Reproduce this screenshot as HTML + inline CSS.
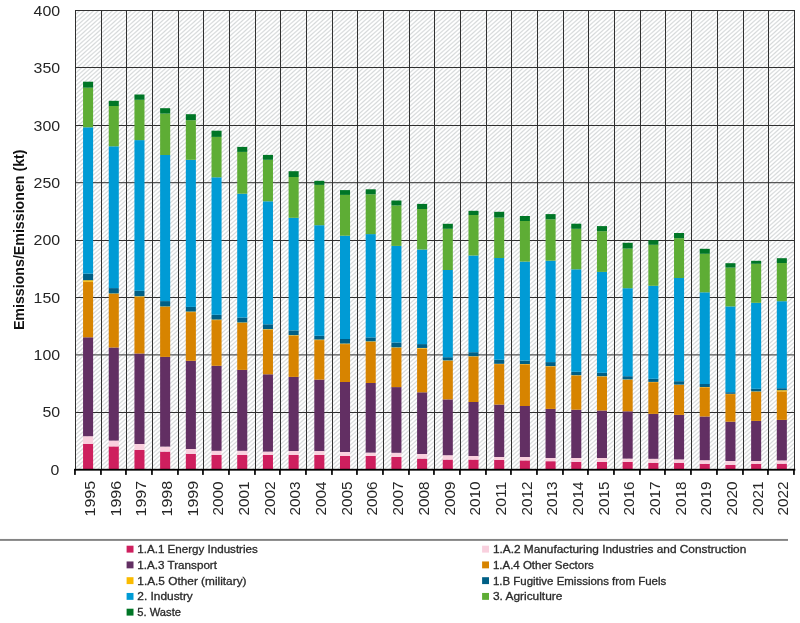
<!DOCTYPE html>
<html lang="en"><head><meta charset="utf-8"><title>Emissions/Emissionen (kt)</title>
<style>html,body{margin:0;padding:0;background:#fff}body{width:800px;height:623px;overflow:hidden}svg{display:block}text{font-family:"Liberation Sans","DejaVu Sans",sans-serif}</style>
</head><body>
<svg width="800" height="623" viewBox="0 0 800 623">
<rect x="0" y="0" width="800" height="623" fill="#fff"/>
<defs><linearGradient id="hg" gradientUnits="userSpaceOnUse" x1="0" y1="0" x2="2.0868" y2="2.3352" spreadMethod="repeat"><stop offset="0" stop-color="#fff"/><stop offset="0.13" stop-color="#fff"/><stop offset="0.5" stop-color="#d5d8d9"/><stop offset="0.87" stop-color="#fff"/><stop offset="1" stop-color="#fff"/></linearGradient></defs>
<rect x="75" y="10" width="720" height="459" fill="url(#hg)"/>
<g fill="#303030">
<rect x="75" y="10" width="720" height="1"/>
<rect x="75" y="67" width="720" height="1"/>
<rect x="75" y="125" width="720" height="1"/>
<rect x="75" y="182.2" width="720" height="1"/>
<rect x="75" y="240" width="720" height="1"/>
<rect x="75" y="297" width="720" height="1"/>
<rect x="75" y="354.4" width="720" height="1"/>
<rect x="75" y="412" width="720" height="1"/>
<rect x="75" y="10" width="1" height="459"/>
<rect x="101" y="10" width="1" height="459"/>
<rect x="126" y="10" width="1" height="459"/>
<rect x="152" y="10" width="1" height="459"/>
<rect x="178" y="10" width="1" height="459"/>
<rect x="203" y="10" width="1" height="459"/>
<rect x="229" y="10" width="1" height="459"/>
<rect x="255" y="10" width="1" height="459"/>
<rect x="280" y="10" width="1" height="459"/>
<rect x="306" y="10" width="1" height="459"/>
<rect x="332" y="10" width="1" height="459"/>
<rect x="357" y="10" width="1" height="459"/>
<rect x="383" y="10" width="1" height="459"/>
<rect x="409" y="10" width="1" height="459"/>
<rect x="434" y="10" width="1" height="459"/>
<rect x="460" y="10" width="1" height="459"/>
<rect x="486" y="10" width="1" height="459"/>
<rect x="511" y="10" width="1" height="459"/>
<rect x="537" y="10" width="1" height="459"/>
<rect x="563" y="10" width="1" height="459"/>
<rect x="588" y="10" width="1" height="459"/>
<rect x="614" y="10" width="1" height="459"/>
<rect x="640" y="10" width="1" height="459"/>
<rect x="665" y="10" width="1" height="459"/>
<rect x="691" y="10" width="1" height="459"/>
<rect x="717" y="10" width="1" height="459"/>
<rect x="743" y="10" width="1" height="459"/>
<rect x="768" y="10" width="1" height="459"/>
<rect x="794" y="10" width="1" height="459"/>
</g>
<g>
<rect x="83.05" y="444.00" width="10.05" height="25.00" fill="#CE1F5E"/>
<rect x="83.05" y="436.20" width="10.05" height="7.80" fill="#F9D0DE"/>
<rect x="83.05" y="337.30" width="10.05" height="98.90" fill="#622F63"/>
<rect x="83.05" y="281.80" width="10.05" height="55.50" fill="#D78400"/>
<rect x="83.05" y="280.20" width="10.05" height="1.60" fill="#FABB00"/>
<rect x="83.05" y="273.70" width="10.05" height="6.50" fill="#005F85"/>
<rect x="83.05" y="127.30" width="10.05" height="146.40" fill="#009BD5"/>
<rect x="83.05" y="87.70" width="10.05" height="39.60" fill="#5EAD35"/>
<rect x="83.05" y="81.70" width="10.05" height="6.00" fill="#007626"/>
</g>
<g>
<rect x="108.75" y="446.40" width="10.05" height="22.60" fill="#CE1F5E"/>
<rect x="108.75" y="440.60" width="10.05" height="5.80" fill="#F9D0DE"/>
<rect x="108.75" y="347.50" width="10.05" height="93.10" fill="#622F63"/>
<rect x="108.75" y="294.00" width="10.05" height="53.50" fill="#D78400"/>
<rect x="108.75" y="293.45" width="10.05" height="0.55" fill="#FABB00"/>
<rect x="108.75" y="288.10" width="10.05" height="5.35" fill="#005F85"/>
<rect x="108.75" y="146.30" width="10.05" height="141.80" fill="#009BD5"/>
<rect x="108.75" y="106.00" width="10.05" height="40.30" fill="#5EAD35"/>
<rect x="108.75" y="100.80" width="10.05" height="5.20" fill="#007626"/>
</g>
<g>
<rect x="134.44" y="450.00" width="10.05" height="19.00" fill="#CE1F5E"/>
<rect x="134.44" y="444.00" width="10.05" height="6.00" fill="#F9D0DE"/>
<rect x="134.44" y="353.50" width="10.05" height="90.50" fill="#622F63"/>
<rect x="134.44" y="296.80" width="10.05" height="56.70" fill="#D78400"/>
<rect x="134.44" y="296.25" width="10.05" height="0.55" fill="#FABB00"/>
<rect x="134.44" y="290.80" width="10.05" height="5.45" fill="#005F85"/>
<rect x="134.44" y="140.10" width="10.05" height="150.70" fill="#009BD5"/>
<rect x="134.44" y="99.80" width="10.05" height="40.30" fill="#5EAD35"/>
<rect x="134.44" y="94.50" width="10.05" height="5.30" fill="#007626"/>
</g>
<g>
<rect x="160.13" y="451.60" width="10.05" height="17.40" fill="#CE1F5E"/>
<rect x="160.13" y="446.60" width="10.05" height="5.00" fill="#F9D0DE"/>
<rect x="160.13" y="356.90" width="10.05" height="89.70" fill="#622F63"/>
<rect x="160.13" y="307.00" width="10.05" height="49.90" fill="#D78400"/>
<rect x="160.13" y="306.45" width="10.05" height="0.55" fill="#FABB00"/>
<rect x="160.13" y="301.10" width="10.05" height="5.35" fill="#005F85"/>
<rect x="160.13" y="155.00" width="10.05" height="146.10" fill="#009BD5"/>
<rect x="160.13" y="113.60" width="10.05" height="41.40" fill="#5EAD35"/>
<rect x="160.13" y="108.20" width="10.05" height="5.40" fill="#007626"/>
</g>
<g>
<rect x="185.83" y="454.00" width="10.05" height="15.00" fill="#CE1F5E"/>
<rect x="185.83" y="449.00" width="10.05" height="5.00" fill="#F9D0DE"/>
<rect x="185.83" y="360.80" width="10.05" height="88.20" fill="#622F63"/>
<rect x="185.83" y="312.10" width="10.05" height="48.70" fill="#D78400"/>
<rect x="185.83" y="311.55" width="10.05" height="0.55" fill="#FABB00"/>
<rect x="185.83" y="306.90" width="10.05" height="4.65" fill="#005F85"/>
<rect x="185.83" y="159.80" width="10.05" height="147.10" fill="#009BD5"/>
<rect x="185.83" y="120.20" width="10.05" height="39.60" fill="#5EAD35"/>
<rect x="185.83" y="114.20" width="10.05" height="6.00" fill="#007626"/>
</g>
<g>
<rect x="211.52" y="455.00" width="10.05" height="14.00" fill="#CE1F5E"/>
<rect x="211.52" y="450.80" width="10.05" height="4.20" fill="#F9D0DE"/>
<rect x="211.52" y="365.80" width="10.05" height="85.00" fill="#622F63"/>
<rect x="211.52" y="320.10" width="10.05" height="45.70" fill="#D78400"/>
<rect x="211.52" y="319.55" width="10.05" height="0.55" fill="#FABB00"/>
<rect x="211.52" y="314.80" width="10.05" height="4.75" fill="#005F85"/>
<rect x="211.52" y="177.30" width="10.05" height="137.50" fill="#009BD5"/>
<rect x="211.52" y="136.90" width="10.05" height="40.40" fill="#5EAD35"/>
<rect x="211.52" y="130.70" width="10.05" height="6.20" fill="#007626"/>
</g>
<g>
<rect x="237.22" y="455.00" width="10.05" height="14.00" fill="#CE1F5E"/>
<rect x="237.22" y="450.80" width="10.05" height="4.20" fill="#F9D0DE"/>
<rect x="237.22" y="369.90" width="10.05" height="80.90" fill="#622F63"/>
<rect x="237.22" y="323.00" width="10.05" height="46.90" fill="#D78400"/>
<rect x="237.22" y="322.45" width="10.05" height="0.55" fill="#FABB00"/>
<rect x="237.22" y="317.50" width="10.05" height="4.95" fill="#005F85"/>
<rect x="237.22" y="193.70" width="10.05" height="123.80" fill="#009BD5"/>
<rect x="237.22" y="151.90" width="10.05" height="41.80" fill="#5EAD35"/>
<rect x="237.22" y="146.90" width="10.05" height="5.00" fill="#007626"/>
</g>
<g>
<rect x="262.92" y="455.00" width="10.05" height="14.00" fill="#CE1F5E"/>
<rect x="262.92" y="451.60" width="10.05" height="3.40" fill="#F9D0DE"/>
<rect x="262.92" y="374.30" width="10.05" height="77.30" fill="#622F63"/>
<rect x="262.92" y="329.70" width="10.05" height="44.60" fill="#D78400"/>
<rect x="262.92" y="329.15" width="10.05" height="0.55" fill="#FABB00"/>
<rect x="262.92" y="324.30" width="10.05" height="4.85" fill="#005F85"/>
<rect x="262.92" y="201.30" width="10.05" height="123.00" fill="#009BD5"/>
<rect x="262.92" y="159.80" width="10.05" height="41.50" fill="#5EAD35"/>
<rect x="262.92" y="154.90" width="10.05" height="4.90" fill="#007626"/>
</g>
<g>
<rect x="288.61" y="455.00" width="10.05" height="14.00" fill="#CE1F5E"/>
<rect x="288.61" y="451.00" width="10.05" height="4.00" fill="#F9D0DE"/>
<rect x="288.61" y="376.90" width="10.05" height="74.10" fill="#622F63"/>
<rect x="288.61" y="335.70" width="10.05" height="41.20" fill="#D78400"/>
<rect x="288.61" y="335.15" width="10.05" height="0.55" fill="#FABB00"/>
<rect x="288.61" y="330.40" width="10.05" height="4.75" fill="#005F85"/>
<rect x="288.61" y="217.80" width="10.05" height="112.60" fill="#009BD5"/>
<rect x="288.61" y="177.00" width="10.05" height="40.80" fill="#5EAD35"/>
<rect x="288.61" y="171.20" width="10.05" height="5.80" fill="#007626"/>
</g>
<g>
<rect x="314.31" y="455.00" width="10.05" height="14.00" fill="#CE1F5E"/>
<rect x="314.31" y="451.00" width="10.05" height="4.00" fill="#F9D0DE"/>
<rect x="314.31" y="379.60" width="10.05" height="71.40" fill="#622F63"/>
<rect x="314.31" y="340.10" width="10.05" height="39.50" fill="#D78400"/>
<rect x="314.31" y="339.55" width="10.05" height="0.55" fill="#FABB00"/>
<rect x="314.31" y="335.80" width="10.05" height="3.75" fill="#005F85"/>
<rect x="314.31" y="225.20" width="10.05" height="110.60" fill="#009BD5"/>
<rect x="314.31" y="184.90" width="10.05" height="40.30" fill="#5EAD35"/>
<rect x="314.31" y="180.80" width="10.05" height="4.10" fill="#007626"/>
</g>
<g>
<rect x="340.00" y="456.00" width="10.05" height="13.00" fill="#CE1F5E"/>
<rect x="340.00" y="452.00" width="10.05" height="4.00" fill="#F9D0DE"/>
<rect x="340.00" y="382.00" width="10.05" height="70.00" fill="#622F63"/>
<rect x="340.00" y="344.10" width="10.05" height="37.90" fill="#D78400"/>
<rect x="340.00" y="343.55" width="10.05" height="0.55" fill="#FABB00"/>
<rect x="340.00" y="339.00" width="10.05" height="4.55" fill="#005F85"/>
<rect x="340.00" y="235.70" width="10.05" height="103.30" fill="#009BD5"/>
<rect x="340.00" y="194.90" width="10.05" height="40.80" fill="#5EAD35"/>
<rect x="340.00" y="190.10" width="10.05" height="4.80" fill="#007626"/>
</g>
<g>
<rect x="365.69" y="456.00" width="10.05" height="13.00" fill="#CE1F5E"/>
<rect x="365.69" y="452.60" width="10.05" height="3.40" fill="#F9D0DE"/>
<rect x="365.69" y="383.00" width="10.05" height="69.60" fill="#622F63"/>
<rect x="365.69" y="341.90" width="10.05" height="41.10" fill="#D78400"/>
<rect x="365.69" y="341.35" width="10.05" height="0.55" fill="#FABB00"/>
<rect x="365.69" y="337.40" width="10.05" height="3.95" fill="#005F85"/>
<rect x="365.69" y="234.10" width="10.05" height="103.30" fill="#009BD5"/>
<rect x="365.69" y="194.30" width="10.05" height="39.80" fill="#5EAD35"/>
<rect x="365.69" y="189.30" width="10.05" height="5.00" fill="#007626"/>
</g>
<g>
<rect x="391.39" y="457.00" width="10.05" height="12.00" fill="#CE1F5E"/>
<rect x="391.39" y="452.80" width="10.05" height="4.20" fill="#F9D0DE"/>
<rect x="391.39" y="387.10" width="10.05" height="65.70" fill="#622F63"/>
<rect x="391.39" y="347.90" width="10.05" height="39.20" fill="#D78400"/>
<rect x="391.39" y="347.35" width="10.05" height="0.55" fill="#FABB00"/>
<rect x="391.39" y="342.50" width="10.05" height="4.85" fill="#005F85"/>
<rect x="391.39" y="245.90" width="10.05" height="96.60" fill="#009BD5"/>
<rect x="391.39" y="205.50" width="10.05" height="40.40" fill="#5EAD35"/>
<rect x="391.39" y="200.50" width="10.05" height="5.00" fill="#007626"/>
</g>
<g>
<rect x="417.09" y="458.60" width="10.05" height="10.40" fill="#CE1F5E"/>
<rect x="417.09" y="454.00" width="10.05" height="4.60" fill="#F9D0DE"/>
<rect x="417.09" y="392.30" width="10.05" height="61.70" fill="#622F63"/>
<rect x="417.09" y="348.50" width="10.05" height="43.80" fill="#D78400"/>
<rect x="417.09" y="347.95" width="10.05" height="0.55" fill="#FABB00"/>
<rect x="417.09" y="344.10" width="10.05" height="3.85" fill="#005F85"/>
<rect x="417.09" y="249.50" width="10.05" height="94.60" fill="#009BD5"/>
<rect x="417.09" y="209.00" width="10.05" height="40.50" fill="#5EAD35"/>
<rect x="417.09" y="203.90" width="10.05" height="5.10" fill="#007626"/>
</g>
<g>
<rect x="442.78" y="459.60" width="10.05" height="9.40" fill="#CE1F5E"/>
<rect x="442.78" y="455.20" width="10.05" height="4.40" fill="#F9D0DE"/>
<rect x="442.78" y="399.40" width="10.05" height="55.80" fill="#622F63"/>
<rect x="442.78" y="360.70" width="10.05" height="38.70" fill="#D78400"/>
<rect x="442.78" y="360.40" width="10.05" height="0.30" fill="#FABB00"/>
<rect x="442.78" y="357.20" width="10.05" height="3.20" fill="#005F85"/>
<rect x="442.78" y="270.00" width="10.05" height="87.20" fill="#009BD5"/>
<rect x="442.78" y="228.80" width="10.05" height="41.20" fill="#5EAD35"/>
<rect x="442.78" y="223.80" width="10.05" height="5.00" fill="#007626"/>
</g>
<g>
<rect x="468.48" y="459.60" width="10.05" height="9.40" fill="#CE1F5E"/>
<rect x="468.48" y="456.00" width="10.05" height="3.60" fill="#F9D0DE"/>
<rect x="468.48" y="402.00" width="10.05" height="54.00" fill="#622F63"/>
<rect x="468.48" y="356.50" width="10.05" height="45.50" fill="#D78400"/>
<rect x="468.48" y="356.20" width="10.05" height="0.30" fill="#FABB00"/>
<rect x="468.48" y="352.20" width="10.05" height="4.00" fill="#005F85"/>
<rect x="468.48" y="255.50" width="10.05" height="96.70" fill="#009BD5"/>
<rect x="468.48" y="215.00" width="10.05" height="40.50" fill="#5EAD35"/>
<rect x="468.48" y="210.80" width="10.05" height="4.20" fill="#007626"/>
</g>
<g>
<rect x="494.17" y="460.00" width="10.05" height="9.00" fill="#CE1F5E"/>
<rect x="494.17" y="457.00" width="10.05" height="3.00" fill="#F9D0DE"/>
<rect x="494.17" y="404.60" width="10.05" height="52.40" fill="#622F63"/>
<rect x="494.17" y="364.10" width="10.05" height="40.50" fill="#D78400"/>
<rect x="494.17" y="363.80" width="10.05" height="0.30" fill="#FABB00"/>
<rect x="494.17" y="359.80" width="10.05" height="4.00" fill="#005F85"/>
<rect x="494.17" y="258.00" width="10.05" height="101.80" fill="#009BD5"/>
<rect x="494.17" y="217.60" width="10.05" height="40.40" fill="#5EAD35"/>
<rect x="494.17" y="211.80" width="10.05" height="5.80" fill="#007626"/>
</g>
<g>
<rect x="519.87" y="460.40" width="10.05" height="8.60" fill="#CE1F5E"/>
<rect x="519.87" y="457.00" width="10.05" height="3.40" fill="#F9D0DE"/>
<rect x="519.87" y="406.00" width="10.05" height="51.00" fill="#622F63"/>
<rect x="519.87" y="364.30" width="10.05" height="41.70" fill="#D78400"/>
<rect x="519.87" y="364.00" width="10.05" height="0.30" fill="#FABB00"/>
<rect x="519.87" y="360.60" width="10.05" height="3.40" fill="#005F85"/>
<rect x="519.87" y="261.60" width="10.05" height="99.00" fill="#009BD5"/>
<rect x="519.87" y="221.00" width="10.05" height="40.60" fill="#5EAD35"/>
<rect x="519.87" y="216.00" width="10.05" height="5.00" fill="#007626"/>
</g>
<g>
<rect x="545.56" y="461.20" width="10.05" height="7.80" fill="#CE1F5E"/>
<rect x="545.56" y="458.00" width="10.05" height="3.20" fill="#F9D0DE"/>
<rect x="545.56" y="408.90" width="10.05" height="49.10" fill="#622F63"/>
<rect x="545.56" y="366.40" width="10.05" height="42.50" fill="#D78400"/>
<rect x="545.56" y="366.10" width="10.05" height="0.30" fill="#FABB00"/>
<rect x="545.56" y="362.10" width="10.05" height="4.00" fill="#005F85"/>
<rect x="545.56" y="260.70" width="10.05" height="101.40" fill="#009BD5"/>
<rect x="545.56" y="219.30" width="10.05" height="41.40" fill="#5EAD35"/>
<rect x="545.56" y="214.10" width="10.05" height="5.20" fill="#007626"/>
</g>
<g>
<rect x="571.25" y="462.00" width="10.05" height="7.00" fill="#CE1F5E"/>
<rect x="571.25" y="458.00" width="10.05" height="4.00" fill="#F9D0DE"/>
<rect x="571.25" y="409.70" width="10.05" height="48.30" fill="#622F63"/>
<rect x="571.25" y="375.50" width="10.05" height="34.20" fill="#D78400"/>
<rect x="571.25" y="375.20" width="10.05" height="0.30" fill="#FABB00"/>
<rect x="571.25" y="371.80" width="10.05" height="3.40" fill="#005F85"/>
<rect x="571.25" y="269.30" width="10.05" height="102.50" fill="#009BD5"/>
<rect x="571.25" y="228.80" width="10.05" height="40.50" fill="#5EAD35"/>
<rect x="571.25" y="223.70" width="10.05" height="5.10" fill="#007626"/>
</g>
<g>
<rect x="596.95" y="462.00" width="10.05" height="7.00" fill="#CE1F5E"/>
<rect x="596.95" y="458.00" width="10.05" height="4.00" fill="#F9D0DE"/>
<rect x="596.95" y="410.50" width="10.05" height="47.50" fill="#622F63"/>
<rect x="596.95" y="376.50" width="10.05" height="34.00" fill="#D78400"/>
<rect x="596.95" y="376.20" width="10.05" height="0.30" fill="#FABB00"/>
<rect x="596.95" y="372.80" width="10.05" height="3.40" fill="#005F85"/>
<rect x="596.95" y="271.90" width="10.05" height="100.90" fill="#009BD5"/>
<rect x="596.95" y="231.20" width="10.05" height="40.70" fill="#5EAD35"/>
<rect x="596.95" y="226.10" width="10.05" height="5.10" fill="#007626"/>
</g>
<g>
<rect x="622.64" y="462.00" width="10.05" height="7.00" fill="#CE1F5E"/>
<rect x="622.64" y="458.60" width="10.05" height="3.40" fill="#F9D0DE"/>
<rect x="622.64" y="411.30" width="10.05" height="47.30" fill="#622F63"/>
<rect x="622.64" y="379.70" width="10.05" height="31.60" fill="#D78400"/>
<rect x="622.64" y="379.40" width="10.05" height="0.30" fill="#FABB00"/>
<rect x="622.64" y="376.20" width="10.05" height="3.20" fill="#005F85"/>
<rect x="622.64" y="288.20" width="10.05" height="88.00" fill="#009BD5"/>
<rect x="622.64" y="248.60" width="10.05" height="39.60" fill="#5EAD35"/>
<rect x="622.64" y="242.80" width="10.05" height="5.80" fill="#007626"/>
</g>
<g>
<rect x="648.34" y="462.80" width="10.05" height="6.20" fill="#CE1F5E"/>
<rect x="648.34" y="458.80" width="10.05" height="4.00" fill="#F9D0DE"/>
<rect x="648.34" y="413.90" width="10.05" height="44.90" fill="#622F63"/>
<rect x="648.34" y="382.20" width="10.05" height="31.70" fill="#D78400"/>
<rect x="648.34" y="381.90" width="10.05" height="0.30" fill="#FABB00"/>
<rect x="648.34" y="378.80" width="10.05" height="3.10" fill="#005F85"/>
<rect x="648.34" y="285.80" width="10.05" height="93.00" fill="#009BD5"/>
<rect x="648.34" y="244.80" width="10.05" height="41.00" fill="#5EAD35"/>
<rect x="648.34" y="240.20" width="10.05" height="4.60" fill="#007626"/>
</g>
<g>
<rect x="674.03" y="462.80" width="10.05" height="6.20" fill="#CE1F5E"/>
<rect x="674.03" y="459.40" width="10.05" height="3.40" fill="#F9D0DE"/>
<rect x="674.03" y="414.90" width="10.05" height="44.50" fill="#622F63"/>
<rect x="674.03" y="384.90" width="10.05" height="30.00" fill="#D78400"/>
<rect x="674.03" y="384.60" width="10.05" height="0.30" fill="#FABB00"/>
<rect x="674.03" y="381.20" width="10.05" height="3.40" fill="#005F85"/>
<rect x="674.03" y="278.00" width="10.05" height="103.20" fill="#009BD5"/>
<rect x="674.03" y="238.20" width="10.05" height="39.80" fill="#5EAD35"/>
<rect x="674.03" y="233.00" width="10.05" height="5.20" fill="#007626"/>
</g>
<g>
<rect x="699.73" y="463.80" width="10.05" height="5.20" fill="#CE1F5E"/>
<rect x="699.73" y="460.20" width="10.05" height="3.60" fill="#F9D0DE"/>
<rect x="699.73" y="416.50" width="10.05" height="43.70" fill="#622F63"/>
<rect x="699.73" y="387.30" width="10.05" height="29.20" fill="#D78400"/>
<rect x="699.73" y="387.00" width="10.05" height="0.30" fill="#FABB00"/>
<rect x="699.73" y="384.00" width="10.05" height="3.00" fill="#005F85"/>
<rect x="699.73" y="292.30" width="10.05" height="91.70" fill="#009BD5"/>
<rect x="699.73" y="253.80" width="10.05" height="38.50" fill="#5EAD35"/>
<rect x="699.73" y="248.80" width="10.05" height="5.00" fill="#007626"/>
</g>
<g>
<rect x="725.42" y="464.80" width="10.05" height="4.20" fill="#CE1F5E"/>
<rect x="725.42" y="461.00" width="10.05" height="3.80" fill="#F9D0DE"/>
<rect x="725.42" y="421.70" width="10.05" height="39.30" fill="#622F63"/>
<rect x="725.42" y="394.10" width="10.05" height="27.60" fill="#D78400"/>
<rect x="725.42" y="393.80" width="10.05" height="0.30" fill="#FABB00"/>
<rect x="725.42" y="392.20" width="10.05" height="1.60" fill="#005F85"/>
<rect x="725.42" y="306.40" width="10.05" height="85.80" fill="#009BD5"/>
<rect x="725.42" y="267.60" width="10.05" height="38.80" fill="#5EAD35"/>
<rect x="725.42" y="263.20" width="10.05" height="4.40" fill="#007626"/>
</g>
<g>
<rect x="751.12" y="463.80" width="10.05" height="5.20" fill="#CE1F5E"/>
<rect x="751.12" y="461.00" width="10.05" height="2.80" fill="#F9D0DE"/>
<rect x="751.12" y="420.90" width="10.05" height="40.10" fill="#622F63"/>
<rect x="751.12" y="391.70" width="10.05" height="29.20" fill="#D78400"/>
<rect x="751.12" y="391.40" width="10.05" height="0.30" fill="#FABB00"/>
<rect x="751.12" y="388.80" width="10.05" height="2.60" fill="#005F85"/>
<rect x="751.12" y="302.80" width="10.05" height="86.00" fill="#009BD5"/>
<rect x="751.12" y="263.80" width="10.05" height="39.00" fill="#5EAD35"/>
<rect x="751.12" y="260.80" width="10.05" height="3.00" fill="#007626"/>
</g>
<g>
<rect x="776.81" y="463.70" width="10.05" height="5.30" fill="#CE1F5E"/>
<rect x="776.81" y="460.40" width="10.05" height="3.30" fill="#F9D0DE"/>
<rect x="776.81" y="419.90" width="10.05" height="40.50" fill="#622F63"/>
<rect x="776.81" y="391.40" width="10.05" height="28.50" fill="#D78400"/>
<rect x="776.81" y="390.20" width="10.05" height="1.20" fill="#FABB00"/>
<rect x="776.81" y="388.20" width="10.05" height="2.00" fill="#005F85"/>
<rect x="776.81" y="301.20" width="10.05" height="87.00" fill="#009BD5"/>
<rect x="776.81" y="263.00" width="10.05" height="38.20" fill="#5EAD35"/>
<rect x="776.81" y="258.20" width="10.05" height="4.80" fill="#007626"/>
</g>
<rect x="74.1" y="468.8" width="721.2" height="1.85" fill="#000"/>
<rect x="74.10" y="469" width="1.7" height="5.9" fill="#000"/>
<rect x="100.10" y="469" width="1.7" height="5.9" fill="#000"/>
<rect x="125.10" y="469" width="1.7" height="5.9" fill="#000"/>
<rect x="151.10" y="469" width="1.7" height="5.9" fill="#000"/>
<rect x="177.10" y="469" width="1.7" height="5.9" fill="#000"/>
<rect x="202.10" y="469" width="1.7" height="5.9" fill="#000"/>
<rect x="228.10" y="469" width="1.7" height="5.9" fill="#000"/>
<rect x="254.10" y="469" width="1.7" height="5.9" fill="#000"/>
<rect x="279.10" y="469" width="1.7" height="5.9" fill="#000"/>
<rect x="305.10" y="469" width="1.7" height="5.9" fill="#000"/>
<rect x="331.10" y="469" width="1.7" height="5.9" fill="#000"/>
<rect x="356.10" y="469" width="1.7" height="5.9" fill="#000"/>
<rect x="382.10" y="469" width="1.7" height="5.9" fill="#000"/>
<rect x="408.10" y="469" width="1.7" height="5.9" fill="#000"/>
<rect x="433.10" y="469" width="1.7" height="5.9" fill="#000"/>
<rect x="459.10" y="469" width="1.7" height="5.9" fill="#000"/>
<rect x="485.10" y="469" width="1.7" height="5.9" fill="#000"/>
<rect x="510.10" y="469" width="1.7" height="5.9" fill="#000"/>
<rect x="536.10" y="469" width="1.7" height="5.9" fill="#000"/>
<rect x="562.10" y="469" width="1.7" height="5.9" fill="#000"/>
<rect x="587.10" y="469" width="1.7" height="5.9" fill="#000"/>
<rect x="613.10" y="469" width="1.7" height="5.9" fill="#000"/>
<rect x="639.10" y="469" width="1.7" height="5.9" fill="#000"/>
<rect x="664.10" y="469" width="1.7" height="5.9" fill="#000"/>
<rect x="690.10" y="469" width="1.7" height="5.9" fill="#000"/>
<rect x="716.10" y="469" width="1.7" height="5.9" fill="#000"/>
<rect x="742.10" y="469" width="1.7" height="5.9" fill="#000"/>
<rect x="767.10" y="469" width="1.7" height="5.9" fill="#000"/>
<rect x="793.10" y="469" width="1.7" height="5.9" fill="#000"/>
<text x="33.6" y="15.8" font-size="14.67" fill="#262626" textLength="26.6" lengthAdjust="spacingAndGlyphs">400</text>
<text x="33.6" y="73.2" font-size="14.67" fill="#262626" textLength="26.6" lengthAdjust="spacingAndGlyphs">350</text>
<text x="33.6" y="130.6" font-size="14.67" fill="#262626" textLength="26.6" lengthAdjust="spacingAndGlyphs">300</text>
<text x="33.6" y="187.9" font-size="14.67" fill="#262626" textLength="26.6" lengthAdjust="spacingAndGlyphs">250</text>
<text x="33.6" y="245.3" font-size="14.67" fill="#262626" textLength="26.6" lengthAdjust="spacingAndGlyphs">200</text>
<text x="33.6" y="302.7" font-size="14.67" fill="#262626" textLength="26.6" lengthAdjust="spacingAndGlyphs">150</text>
<text x="33.6" y="360.1" font-size="14.67" fill="#262626" textLength="26.6" lengthAdjust="spacingAndGlyphs">100</text>
<text x="42.5" y="417.4" font-size="14.67" fill="#262626" textLength="17.7" lengthAdjust="spacingAndGlyphs">50</text>
<text x="50.6" y="474.8" font-size="14.67" fill="#262626" textLength="8.8" lengthAdjust="spacingAndGlyphs">0</text>
<text transform="translate(24.3,330.1) rotate(-90)" font-size="14.67" font-weight="bold" fill="#111" textLength="180.6" lengthAdjust="spacingAndGlyphs">Emissions/Emissionen (kt)</text>
<text transform="translate(94.98,516.5) rotate(-90)" font-size="14.67" fill="#262626" textLength="35.7" lengthAdjust="spacingAndGlyphs">1995</text>
<text transform="translate(120.66,516.5) rotate(-90)" font-size="14.67" fill="#262626" textLength="35.7" lengthAdjust="spacingAndGlyphs">1996</text>
<text transform="translate(146.34,516.5) rotate(-90)" font-size="14.67" fill="#262626" textLength="35.7" lengthAdjust="spacingAndGlyphs">1997</text>
<text transform="translate(172.02,516.5) rotate(-90)" font-size="14.67" fill="#262626" textLength="35.7" lengthAdjust="spacingAndGlyphs">1998</text>
<text transform="translate(197.70,516.5) rotate(-90)" font-size="14.67" fill="#262626" textLength="35.7" lengthAdjust="spacingAndGlyphs">1999</text>
<text transform="translate(223.38,515.5) rotate(-90)" font-size="14.67" fill="#262626" textLength="33.9" lengthAdjust="spacingAndGlyphs">2000</text>
<text transform="translate(249.06,515.5) rotate(-90)" font-size="14.67" fill="#262626" textLength="33.9" lengthAdjust="spacingAndGlyphs">2001</text>
<text transform="translate(274.74,515.5) rotate(-90)" font-size="14.67" fill="#262626" textLength="33.9" lengthAdjust="spacingAndGlyphs">2002</text>
<text transform="translate(300.42,515.5) rotate(-90)" font-size="14.67" fill="#262626" textLength="33.9" lengthAdjust="spacingAndGlyphs">2003</text>
<text transform="translate(326.10,515.5) rotate(-90)" font-size="14.67" fill="#262626" textLength="33.9" lengthAdjust="spacingAndGlyphs">2004</text>
<text transform="translate(351.78,515.5) rotate(-90)" font-size="14.67" fill="#262626" textLength="33.9" lengthAdjust="spacingAndGlyphs">2005</text>
<text transform="translate(377.46,515.5) rotate(-90)" font-size="14.67" fill="#262626" textLength="33.9" lengthAdjust="spacingAndGlyphs">2006</text>
<text transform="translate(403.14,515.5) rotate(-90)" font-size="14.67" fill="#262626" textLength="33.9" lengthAdjust="spacingAndGlyphs">2007</text>
<text transform="translate(428.82,515.5) rotate(-90)" font-size="14.67" fill="#262626" textLength="33.9" lengthAdjust="spacingAndGlyphs">2008</text>
<text transform="translate(454.50,515.5) rotate(-90)" font-size="14.67" fill="#262626" textLength="33.9" lengthAdjust="spacingAndGlyphs">2009</text>
<text transform="translate(480.18,515.5) rotate(-90)" font-size="14.67" fill="#262626" textLength="33.9" lengthAdjust="spacingAndGlyphs">2010</text>
<text transform="translate(505.86,515.5) rotate(-90)" font-size="14.67" fill="#262626" textLength="33.9" lengthAdjust="spacingAndGlyphs">2011</text>
<text transform="translate(531.54,515.5) rotate(-90)" font-size="14.67" fill="#262626" textLength="33.9" lengthAdjust="spacingAndGlyphs">2012</text>
<text transform="translate(557.22,515.5) rotate(-90)" font-size="14.67" fill="#262626" textLength="33.9" lengthAdjust="spacingAndGlyphs">2013</text>
<text transform="translate(582.90,515.5) rotate(-90)" font-size="14.67" fill="#262626" textLength="33.9" lengthAdjust="spacingAndGlyphs">2014</text>
<text transform="translate(608.58,515.5) rotate(-90)" font-size="14.67" fill="#262626" textLength="33.9" lengthAdjust="spacingAndGlyphs">2015</text>
<text transform="translate(634.26,515.5) rotate(-90)" font-size="14.67" fill="#262626" textLength="33.9" lengthAdjust="spacingAndGlyphs">2016</text>
<text transform="translate(659.94,515.5) rotate(-90)" font-size="14.67" fill="#262626" textLength="33.9" lengthAdjust="spacingAndGlyphs">2017</text>
<text transform="translate(685.62,515.5) rotate(-90)" font-size="14.67" fill="#262626" textLength="33.9" lengthAdjust="spacingAndGlyphs">2018</text>
<text transform="translate(711.30,515.5) rotate(-90)" font-size="14.67" fill="#262626" textLength="33.9" lengthAdjust="spacingAndGlyphs">2019</text>
<text transform="translate(736.98,515.5) rotate(-90)" font-size="14.67" fill="#262626" textLength="33.9" lengthAdjust="spacingAndGlyphs">2020</text>
<text transform="translate(762.66,515.5) rotate(-90)" font-size="14.67" fill="#262626" textLength="33.9" lengthAdjust="spacingAndGlyphs">2021</text>
<text transform="translate(788.34,515.5) rotate(-90)" font-size="14.67" fill="#262626" textLength="33.9" lengthAdjust="spacingAndGlyphs">2022</text>
<rect x="0" y="538.95" width="788" height="1.95" fill="#848484"/>
<rect x="126.6" y="545.70" width="6.9" height="6.9" fill="#CE1F5E"/>
<text x="137.3" y="553.00" font-size="10.67" fill="#2b2b2b" stroke="#2b2b2b" stroke-width="0.3" textLength="120.5" lengthAdjust="spacingAndGlyphs">1.A.1 Energy Industries</text>
<rect x="126.6" y="561.45" width="6.9" height="6.9" fill="#622F63"/>
<text x="137.3" y="568.75" font-size="10.67" fill="#2b2b2b" stroke="#2b2b2b" stroke-width="0.3" textLength="79.7" lengthAdjust="spacingAndGlyphs">1.A.3 Transport</text>
<rect x="126.6" y="577.20" width="6.9" height="6.9" fill="#FABB00"/>
<text x="137.3" y="584.50" font-size="10.67" fill="#2b2b2b" stroke="#2b2b2b" stroke-width="0.3" textLength="109.2" lengthAdjust="spacingAndGlyphs">1.A.5 Other (military)</text>
<rect x="126.6" y="592.95" width="6.9" height="6.9" fill="#009BD5"/>
<text x="137.3" y="600.25" font-size="10.67" fill="#2b2b2b" stroke="#2b2b2b" stroke-width="0.3" textLength="55.5" lengthAdjust="spacingAndGlyphs">2. Industry</text>
<rect x="126.6" y="608.70" width="6.9" height="6.9" fill="#007626"/>
<text x="137.3" y="616.00" font-size="10.67" fill="#2b2b2b" stroke="#2b2b2b" stroke-width="0.3" textLength="43.7" lengthAdjust="spacingAndGlyphs">5. Waste</text>
<rect x="482.1" y="545.70" width="6.9" height="6.9" fill="#F9D0DE"/>
<text x="492.9" y="553.00" font-size="10.67" fill="#2b2b2b" stroke="#2b2b2b" stroke-width="0.3" textLength="253.4" lengthAdjust="spacingAndGlyphs">1.A.2 Manufacturing Industries and Construction</text>
<rect x="482.1" y="561.45" width="6.9" height="6.9" fill="#D78400"/>
<text x="492.9" y="568.75" font-size="10.67" fill="#2b2b2b" stroke="#2b2b2b" stroke-width="0.3" textLength="100.9" lengthAdjust="spacingAndGlyphs">1.A.4 Other Sectors</text>
<rect x="482.1" y="577.20" width="6.9" height="6.9" fill="#005F85"/>
<text x="492.9" y="584.50" font-size="10.67" fill="#2b2b2b" stroke="#2b2b2b" stroke-width="0.3" textLength="173.4" lengthAdjust="spacingAndGlyphs">1.B Fugitive Emissions from Fuels</text>
<rect x="482.1" y="592.95" width="6.9" height="6.9" fill="#5EAD35"/>
<text x="492.9" y="600.25" font-size="10.67" fill="#2b2b2b" stroke="#2b2b2b" stroke-width="0.3" textLength="69.5" lengthAdjust="spacingAndGlyphs">3. Agriculture</text>
</svg>
</body></html>
